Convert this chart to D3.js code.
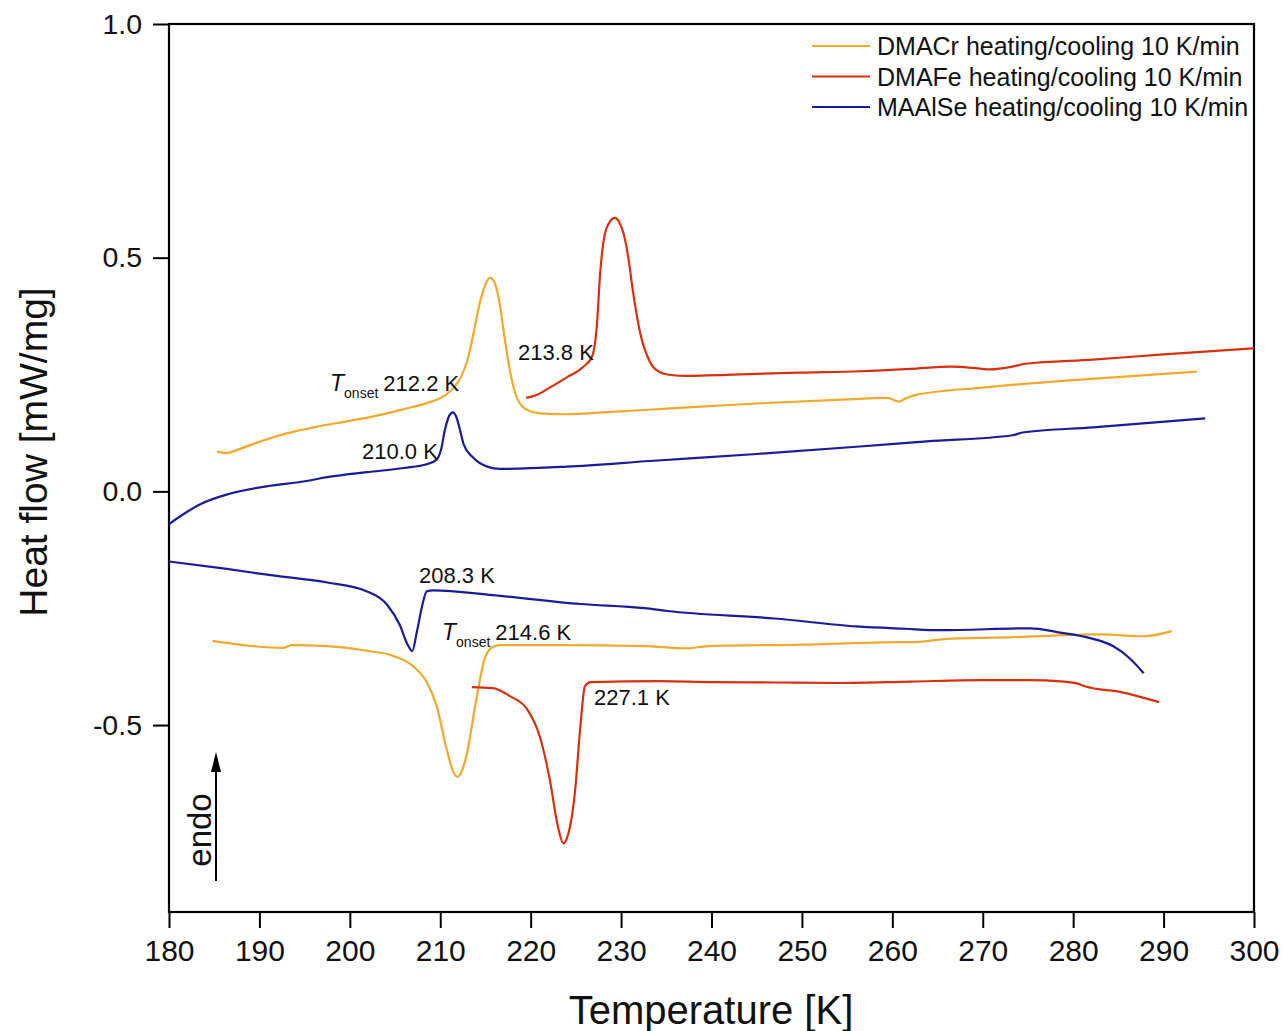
<!DOCTYPE html>
<html><head><meta charset="utf-8">
<script src="https://cdn.jsdelivr.net/npm/d3@7"></script>
<style>body{margin:0;background:#fff}svg text{font-family:"Liberation Sans",Arial,sans-serif;fill:#111}</style>
</head><body><svg id="c" width="1284" height="1031"></svg>
<script>
const xTicks=[180,190,200,210,220,230,240,250,260,270,280,290,300];
const yTicks=[-0.5,0.0,0.5,1.0];
const seriesNames=["DMACr heating/cooling 10 K/min","DMAFe heating/cooling 10 K/min","MAAlSe heating/cooling 10 K/min"];
const seriesColors=["#F0A92C","#D6300F","#1B1B95"];
// DMACr heating
const crHeat=[[185.3,0.085],[186.3,0.082],[188,0.092],[190,0.106],[193,0.124],[196,0.137],[200,0.151],[203,0.162],[206,0.176],[209,0.192],[210.5,0.205],[211.5,0.222],[212.3,0.245],[213,0.28],[213.7,0.34],[214.4,0.405],[215,0.443],[215.5,0.457],[216,0.447],[216.5,0.41],[217,0.345],[217.6,0.27],[218.3,0.21],[219.3,0.178],[221,0.167],[224,0.165],[228,0.169],[235,0.177],[245,0.188],[255,0.197],[259.5,0.2],[260.7,0.192],[261.5,0.199],[262.5,0.206],[270,0.222],[280,0.238],[293.7,0.256]];
// DMACr cooling
const crCool=[[184.8,-0.32],[188.2,-0.329],[192.6,-0.335],[193.6,-0.329],[197.5,-0.331],[201.9,-0.341],[204.8,-0.352],[207,-0.374],[208.5,-0.408],[209.6,-0.459],[210.7,-0.551],[211.4,-0.598],[211.9,-0.611],[212.4,-0.598],[212.9,-0.565],[214,-0.444],[214.9,-0.359],[215.8,-0.333],[216.6,-0.329],[223.2,-0.329],[232.6,-0.331],[237,-0.336],[239.8,-0.331],[250,-0.328],[259,-0.323],[263,-0.322],[265.7,-0.316],[273.4,-0.312],[278.2,-0.308],[283,-0.306],[287.8,-0.31],[290.9,-0.299]];
// DMAFe heating
const feHeat=[[219.5,0.2],[220.5,0.205],[222.1,0.222],[224,0.244],[225.8,0.266],[226.8,0.289],[227.3,0.35],[227.7,0.47],[228.2,0.55],[228.8,0.578],[229.3,0.585],[229.8,0.576],[230.3,0.55],[230.8,0.5],[231.3,0.43],[232.1,0.34],[233.2,0.277],[234.2,0.256],[235.5,0.249],[237.3,0.247],[242.4,0.25],[249.8,0.254],[256.4,0.257],[262,0.262],[266.5,0.267],[268,0.266],[270.8,0.261],[273.3,0.267],[274.7,0.273],[282.2,0.282],[290,0.293],[300,0.306]];
// DMAFe cooling
const feCool=[[213.5,-0.419],[215.8,-0.421],[217.7,-0.438],[219.6,-0.466],[221,-0.524],[222.1,-0.615],[223,-0.716],[223.6,-0.753],[224.1,-0.737],[224.9,-0.643],[225.5,-0.502],[226,-0.417],[226.6,-0.408],[234.3,-0.406],[239.8,-0.408],[247,-0.409],[254.2,-0.41],[262,-0.407],[270,-0.404],[274.9,-0.404],[279,-0.407],[280.6,-0.412],[281.3,-0.417],[285.4,-0.43],[289.5,-0.451]];
// MAAlSe heating
const alHeat=[[180,-0.07],[181.5,-0.05],[183.4,-0.028],[186.7,-0.005],[191.2,0.012],[194.5,0.02],[198,0.032],[201.9,0.041],[206,0.05],[208.5,0.058],[209.6,0.068],[210.1,0.09],[210.5,0.13],[211,0.162],[211.4,0.169],[211.8,0.158],[212.2,0.13],[212.6,0.1],[213.6,0.073],[215.2,0.053],[216.6,0.048],[224,0.053],[233.2,0.065],[245,0.08],[256.4,0.096],[263.8,0.107],[273.3,0.12],[274.4,0.126],[282.2,0.137],[294.6,0.156]];
// MAAlSe cooling
const alCool=[[180,-0.15],[186.4,-0.166],[191.9,-0.181],[197.5,-0.195],[201.9,-0.214],[204.1,-0.242],[205.5,-0.285],[206.4,-0.328],[206.9,-0.342],[207.4,-0.302],[208,-0.245],[208.5,-0.214],[209.2,-0.212],[215.8,-0.222],[225.5,-0.241],[232.6,-0.25],[235.1,-0.256],[247,-0.272],[256,-0.289],[261.4,-0.294],[265.3,-0.297],[275.3,-0.293],[278.2,-0.301],[282.1,-0.315],[284.4,-0.331],[286.3,-0.358],[287.8,-0.389]];
const curves=[[crHeat,0],[crCool,0],[feHeat,1],[feCool,1],[alHeat,2],[alCool,2]];

const svg=d3.select("#c");
const L=169,R=1254,T=24,B=912;
const x=d3.scaleLinear().domain([180,300]).range([L,R]);
const y=d3.scaleLinear().domain([-0.9,1.0]).range([B,T]);

// frame
svg.append("rect").attr("x",L).attr("y",T).attr("width",R-L).attr("height",B-T).attr("fill","none").attr("stroke","#000").attr("stroke-width",2.2);

// x axis
const xAx=svg.append("g").attr("transform",`translate(0,${B})`);
xAx.call(d3.axisBottom(x).tickValues(d3.range(185,300,10)).tickSize(9).tickFormat(""));
xAx.call(d3.axisBottom(x).tickValues(xTicks).tickSize(16).tickPadding(12).tickFormat(d3.format("d")));
xAx.selectAll(".domain").remove();
xAx.selectAll("line").attr("stroke","#000").attr("stroke-width",2);
xAx.selectAll("text").attr("font-size",30).attr("fill","#111");

// y axis
const yAx=svg.append("g").attr("transform",`translate(${L},0)`);
yAx.call(d3.axisLeft(y).tickValues([-0.75,-0.25,0.25,0.75]).tickSize(9).tickFormat(""));
yAx.call(d3.axisLeft(y).tickValues(yTicks).tickSize(16).tickPadding(11).tickFormat(d=>d3.format(".1f")(d).replace("−","-")));
yAx.selectAll(".domain").remove();
yAx.selectAll("line").attr("stroke","#000").attr("stroke-width",2);
yAx.selectAll("text").attr("font-size",28.5).attr("fill","#111");

// titles
svg.append("text").attr("x",711).attr("y",1024).attr("text-anchor","middle").attr("font-size",40).text("Temperature [K]");
svg.append("text").attr("transform","translate(47,452) rotate(-90)").attr("text-anchor","middle").attr("font-size",39).text("Heat flow [mW/mg]");

// curves
const line=d3.line().x(d=>x(d[0])).y(d=>y(d[1])).curve(d3.curveMonotoneX);
curves.forEach(([data,i])=>{
  svg.append("path").datum(data).attr("d",line).attr("fill","none").attr("stroke",seriesColors[i]).attr("stroke-width",2.2).attr("stroke-linejoin","round");
});

// legend
seriesNames.forEach((n,i)=>{
  const yy=46+i*30.5;
  svg.append("line").attr("x1",812).attr("x2",870).attr("y1",yy).attr("y2",yy).attr("stroke",seriesColors[i]).attr("stroke-width",2);
  svg.append("text").attr("x",877).attr("y",yy+9).attr("font-size",25).text(n);
});

// annotations
function ann(xp,yp,txt,onset){
  const t=svg.append("text").attr("x",xp).attr("y",yp).attr("font-size",22);
  if(onset){
    t.append("tspan").attr("font-style","italic").attr("font-size",23).text("T");
    t.append("tspan").attr("font-size",14).attr("dy",7).text("onset");
    t.append("tspan").attr("dy",-7).attr("dx",5).text(txt);
  } else t.text(txt);
}
ann(330,391,"212.2 K",true);
ann(518,360,"213.8 K");
ann(362,459,"210.0 K");
ann(419,583,"208.3 K");
ann(442,640,"214.6 K",true);
ann(594,705,"227.1 K");

// endo arrow
svg.append("line").attr("x1",216).attr("x2",216).attr("y1",881).attr("y2",768).attr("stroke","#000").attr("stroke-width",2);
svg.append("path").attr("d","M216,752 L211,772 L221,772 Z").attr("fill","#000");
svg.append("text").attr("transform","translate(211,830) rotate(-90)").attr("text-anchor","middle").attr("font-size",33).text("endo");
</script></body></html>
